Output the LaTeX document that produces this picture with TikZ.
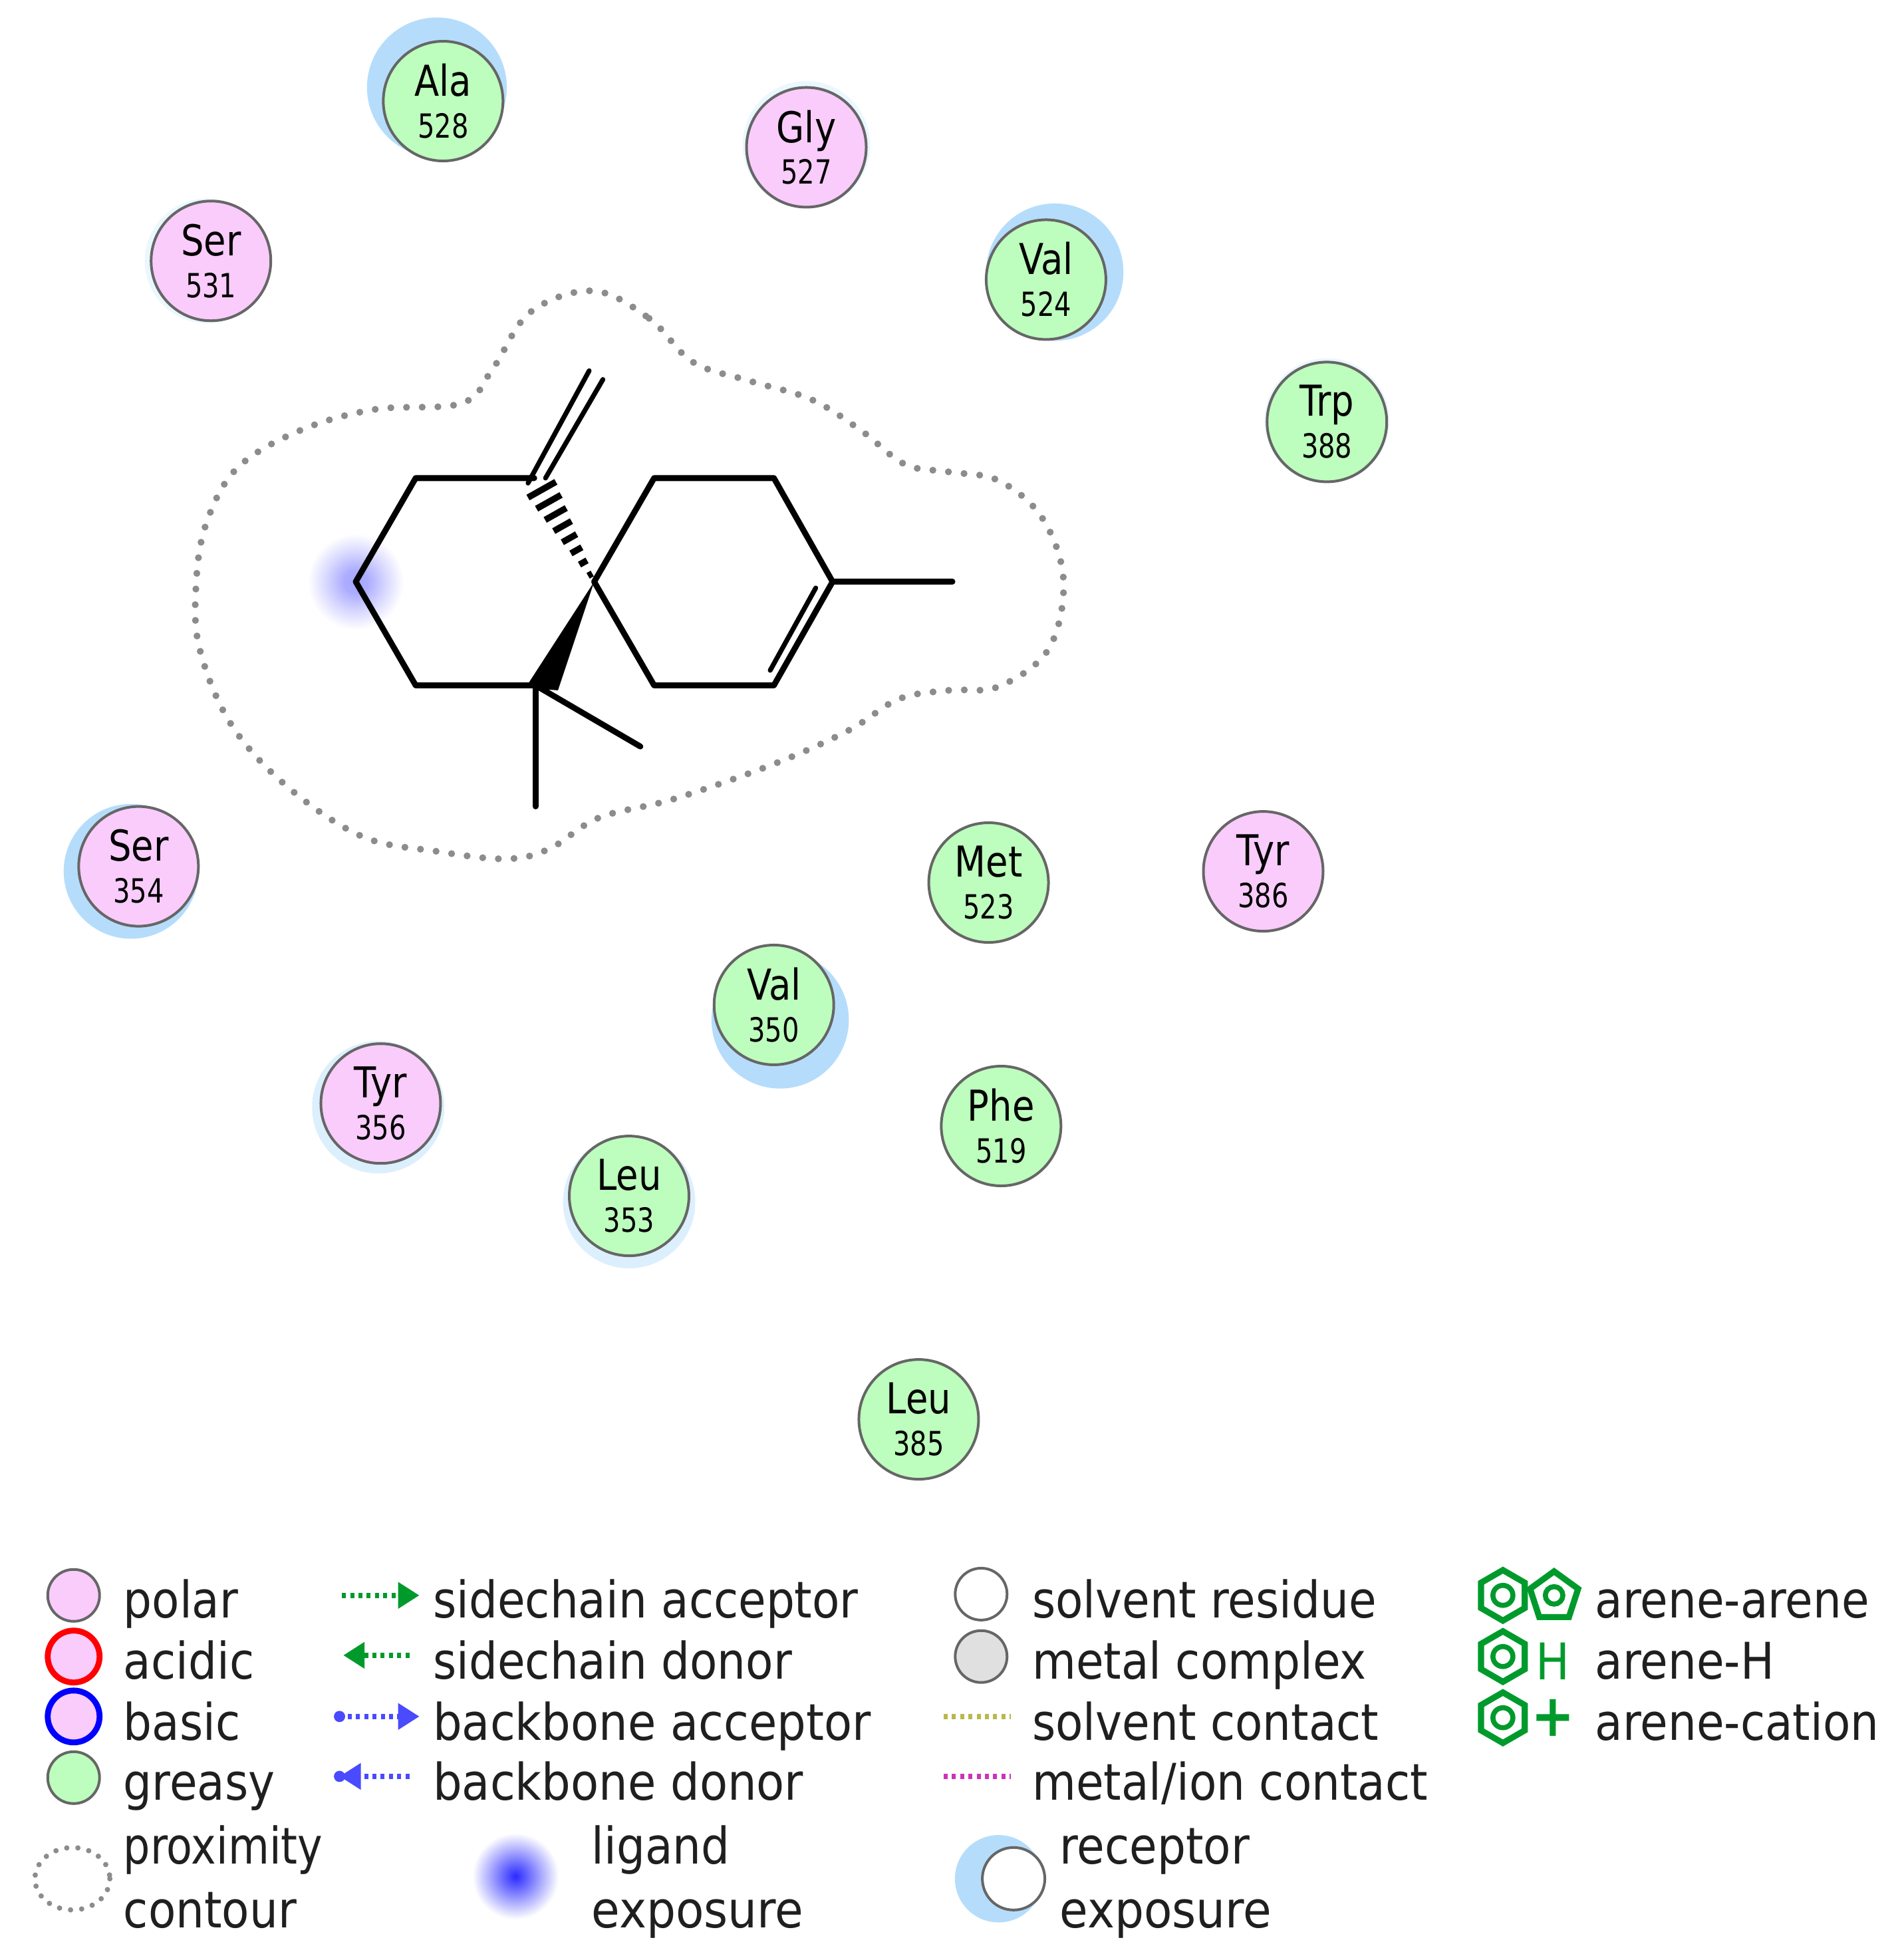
\documentclass[tikz,border=0pt]{standalone}
\usepackage{fontspec}
\usetikzlibrary{arrows.meta,calc,shapes.geometric}
\setmainfont{DejaVu Sans}
\newfontfamily\lgfont[FakeStretch=0.89]{DejaVu Sans}
\newfontfamily\nmfont[FakeStretch=0.85]{DejaVu Sans}
\newfontfamily\nbfont[FakeStretch=0.80]{DejaVu Sans}
\definecolor{polarc}{HTML}{F9CCFB}
\definecolor{greasyc}{HTML}{BDFDBD}
\definecolor{ringc}{HTML}{666666}
\definecolor{expoc}{HTML}{B5DDFB}
\definecolor{expol}{HTML}{DCEFFD}
\definecolor{expof}{HTML}{EAF7FF}
\definecolor{aren}{HTML}{009A2C}
\definecolor{bbc}{HTML}{4A4AFF}
\definecolor{solv}{HTML}{B8B84E}
\definecolor{metl}{HTML}{CC33BB}
\definecolor{contc}{HTML}{8C8C8C}
\definecolor{ligA}{HTML}{A4A4FF}
\definecolor{ligB}{HTML}{D8D8FF}
\definecolor{legA}{HTML}{2A2AFF}
\definecolor{legB}{HTML}{B0B0FF}
\pgfdeclareradialshading{ligexp}{\pgfpointorigin}{color(0bp)=(ligA); color(6bp)=(ligA!90!white); color(15bp)=(ligB); color(24bp)=(white); color(50bp)=(white)}
\pgfdeclareradialshading{legexp}{\pgfpointorigin}{color(0bp)=(legA); color(6bp)=(legA!75!white); color(15bp)=(legB); color(24bp)=(white); color(50bp)=(white)}
\tikzset{
  res/.style={circle,draw=ringc,line width=1pt,minimum size=45pt,inner sep=0pt,align=center},
  polarres/.style={res,fill=polarc},
  greasyres/.style={res,fill=greasyc},
  lgkey/.style={circle,draw=ringc,line width=1pt,minimum size=19.5pt,inner sep=0pt},
  lgt/.style={anchor=base west,inner sep=0pt,outer sep=0pt,font=\lgfont\fontsize{19}{22}\selectfont,text=black!88},
  bond/.style={line width=2.2pt,line cap=round,line join=round,black},
  thinbond/.style={line width=1.8pt,line cap=round,black},
  contour/.style={contc,line width=2.6pt,line cap=round,dash pattern=on 0pt off 5.9pt},
  sc/.style={aren,line width=2pt,dash pattern=on 1.5pt off 1.6pt},
  bb/.style={bbc,line width=2pt,dash pattern=on 1.5pt off 1.6pt},
  tipa/.style={-{Triangle[length=8pt,width=9.5pt]}},
  arhex/.style={regular polygon,regular polygon sides=6,shape border rotate=30,draw=aren,line width=2.3pt,minimum size=19pt,inner sep=0pt},
  arpent/.style={regular polygon,regular polygon sides=5,draw=aren,line width=2.3pt,minimum size=19pt,inner sep=0pt},
}
\newcommand{\resl}[2]{{\nmfont\fontsize{16}{15}\selectfont\vphantom{Ay}#1}\\[2.1pt]{\nbfont\fontsize{12.5}{15}\selectfont #2}}
\begin{document}
\begin{tikzpicture}[x=0.46925pt,y=-0.46925pt]
\useasboundingbox (0,0) rectangle (1525,1568.5);
\fill[white] (0,0) rectangle (1525,1568.5);
% receptor exposure halos
\fill[expoc] (350,70) circle (56);
\fill[expof] (646,116) circle (51);
\fill[expof] (166,209) circle (50);
\fill[expoc] (845,218) circle (55);
\fill[expof] (1063,337) circle (50);
\fill[expoc] (105,698) circle (54);
\fill[expoc] (625,817) circle (55);
\fill[expol] (303,887) circle (53);
\fill[expol] (504,963) circle (53);
% ligand exposure
\shade[shading=ligexp] (285,466) circle (40);
% proximity contour
\draw[contour] plot[smooth cycle,tension=0.6] coordinates {
 (475,233) (520,255) (555,290) (600,305) (650,320) (690,345) (725,372) (760,378) (800,385) (835,415) (852,465)
 (840,520) (800,550) (760,553) (720,560) (680,585) (620,612) (540,640) (480,655) (440,680) (405,688)
 (350,682) (290,670) (230,630) (185,580) (160,520) (157,470) (165,420) (190,375) (240,345) (300,328) (370,323)
 (395,295) (425,250)};
% molecule
\coordinate (a1) at (285,466);
\coordinate (a2) at (333,383);
\coordinate (a3) at (428,383);
\coordinate (a4) at (476,466);
\coordinate (a5) at (429,549);
\coordinate (a6) at (333,549);
\coordinate (b1) at (524,383);
\coordinate (b2) at (620,383);
\coordinate (b3) at (667,466);
\coordinate (b4) at (620,549);
\coordinate (b5) at (524,549);
\coordinate (me1) at (763,466);
\coordinate (me2) at (429,646);
\coordinate (me3) at (513,598);
\draw[bond] (a3) -- (a2) -- (a1) -- (a6) -- (a5);
\draw[bond] (a4) -- (b1) -- (b2) -- (b3) -- (b4) -- (b5) -- (a4);
\draw[bond] (b3) -- (me1);
\draw[bond] (a5) -- (me2);
\draw[bond] (a5) -- (me3);
\draw[thinbond] (653.5,471) -- (617,537);
\draw[thinbond] (423,387) -- (472,297);
\draw[thinbond] (437,383) -- (483,304);
\fill[black] (a4) -- (447,553) -- (421,551) -- cycle;
\foreach \t in {0.07,0.19,0.31,0.43,0.55,0.67,0.79,0.91}{
  \pgfmathsetmacro\cx{476-46*\t}
  \pgfmathsetmacro\cy{466-81*\t}
  \pgfmathsetmacro\hw{1+13*\t}
  \draw[black,line width=2.4pt] (\cx-0.87*\hw,\cy+0.49*\hw) -- (\cx+0.87*\hw,\cy-0.49*\hw);
}
% residues
\node[greasyres] (ala528) at (355,81) {\resl{Ala}{528}};
\node[polarres] (gly527) at (646,118) {\resl{Gly}{527}};
\node[polarres] (ser531) at (169,209) {\resl{Ser}{531}};
\node[greasyres] (val524) at (838,224) {\resl{Val}{524}};
\node[greasyres] (trp388) at (1063,338) {\resl{Trp}{388}};
\node[polarres] (ser354) at (111,694) {\resl{Ser}{354}};
\node[greasyres] (met523) at (792,707) {\resl{Met}{523}};
\node[polarres] (tyr386) at (1012,698) {\resl{Tyr}{386}};
\node[greasyres] (val350) at (620,805) {\resl{Val}{350}};
\node[polarres] (tyr356) at (305,884) {\resl{Tyr}{356}};
\node[greasyres] (phe519) at (802,902) {\resl{Phe}{519}};
\node[greasyres] (leu353) at (504,958) {\resl{Leu}{353}};
\node[greasyres] (leu385) at (736,1137) {\resl{Leu}{385}};
% legend column 1
\node[lgkey,fill=polarc] (kpolar) at (59,1278) {};
\node[lgkey,fill=polarc,draw=red,line width=2.2pt] (kacid) at (59,1327) {};
\node[lgkey,fill=polarc,draw=blue,line width=2.2pt] (kbasic) at (59,1375) {};
\node[lgkey,fill=greasyc] (kgreasy) at (59,1424) {};
\node[lgt] (tpolar) at (99,1296) {polar};
\node[lgt] (tacid) at (99,1345) {acidic};
\node[lgt] (tbasic) at (99,1394) {basic};
\node[lgt] (tgreasy) at (99,1442) {greasy};
\draw[contc,line width=2pt,line cap=round,dash pattern=on 0pt off 4.2pt] (58,1505) ellipse (30 and 25);
\node[lgt] (tprox) at (99,1493) {\scalebox{.94}[1]{proximity}};
\node[lgt] (tcont) at (99,1544) {contour};
% legend column 2
\coordinate (sa1) at (274,1278); \coordinate (sa2) at (336,1278);
\coordinate (sd1) at (328,1326); \coordinate (sd2) at (275,1326);
\coordinate (ba1) at (272,1375); \coordinate (ba2) at (336,1375);
\coordinate (bd1) at (328,1423); \coordinate (bd2) at (272,1423);
\draw[sc,tipa] (sa1) -- (sa2);
\draw[sc,tipa] (sd1) -- (sd2);
\draw[bb,tipa] (ba1) -- (ba2);
\draw[bb,tipa] (bd1) -- (bd2);
\fill[bbc] (ba1) circle (4.5);
\fill[bbc] (bd2) circle (4.5);
\node[lgt] (tsa) at (347,1296) {sidechain acceptor};
\node[lgt] (tsd) at (347,1345) {sidechain donor};
\node[lgt] (tba) at (347,1394) {\scalebox{1.017}[1]{backbone acceptor}};
\node[lgt] (tbd) at (347,1442) {\scalebox{1.017}[1]{backbone donor}};
\shade[shading=legexp] (413,1503) circle (36);
\node[lgt] (tlig) at (474,1493) {ligand};
\node[lgt] (texp) at (474,1544) {\scalebox{1.025}[1]{exposure}};
% legend column 3
\node[lgkey,fill=white] (ksolv) at (786,1277) {};
\node[lgkey,fill=black!12] (kmet) at (786,1327) {};
\coordinate (sc1) at (756,1375); \coordinate (sc2) at (810,1375);
\coordinate (mc1) at (756,1423); \coordinate (mc2) at (810,1423);
\draw[solv,line width=2pt,dash pattern=on 1.5pt off 1.6pt] (sc1) -- (sc2);
\draw[metl,line width=2pt,dash pattern=on 1.5pt off 1.6pt] (mc1) -- (mc2);
\node[lgt] (tsr) at (827,1296) {solvent residue};
\node[lgt] (tmc) at (827,1345) {metal complex};
\node[lgt] (tsc) at (827,1394) {solvent contact};
\node[lgt] (tmi) at (827,1442) {metal/ion contact};
\fill[expoc] (800,1505) circle (35);
\node[circle,draw=ringc,fill=white,line width=1pt,minimum size=23.5pt,inner sep=0pt] (krec) at (812,1505) {};
\node[lgt] (trec) at (849,1493) {receptor};
\node[lgt] (texp2) at (849,1544) {\scalebox{1.025}[1]{exposure}};
% legend column 4
\foreach \nam/\cy in {h1/1278,h2/1327,h3/1376}{
  \node[arhex] (\nam) at (1204,\cy) {};
  \draw[aren,line width=1.9pt] (1204,\cy) circle (8);
}
\node[arpent] (p1) at (1245,1279) {};
\draw[aren,line width=1.9pt] (1245,1278) circle (7);
\node[inner sep=0pt,text=aren,font=\lgfont\fontsize{19}{22}\selectfont] (hatom) at (1244,1331) {H};
\node[inner sep=0pt,text=aren,font=\lgfont\bfseries\fontsize{22}{22}\selectfont] (plus) at (1244,1376) {+};
\node[lgt] (taa) at (1278,1296) {arene-arene};
\node[lgt] (tah) at (1278,1345) {arene-H};
\node[lgt] (tac) at (1278,1394) {arene-cation};
\end{tikzpicture}
\end{document}
